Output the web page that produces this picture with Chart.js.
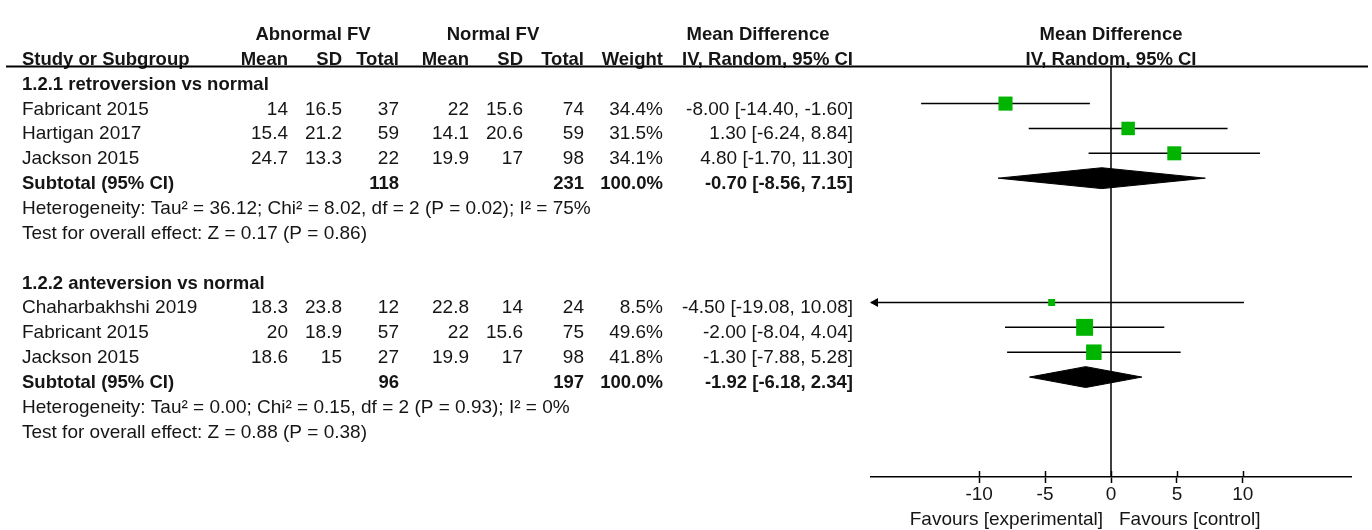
<!DOCTYPE html>
<html>
<head>
<meta charset="utf-8">
<script src="https://cdn.jsdelivr.net/npm/chart.js@4/dist/chart.umd.min.js"></script>
<style>
  html, body { margin: 0; padding: 0; background: #fff; }
  canvas { display: block; }
</style>
</head>
<body>
<canvas id="c" width="1372" height="530"></canvas>
<script>
// ---------------- DATA ----------------
const SUBGROUPS = ['1.2.1 retroversion vs normal', '1.2.2 anteversion vs normal'];
const STUDY_NAMES = ['Fabricant 2015', 'Hartigan 2017', 'Jackson 2015', 'Chaharbakhshi 2019', 'Fabricant 2015', 'Jackson 2015'];
const STUDY_GROUP = [0, 0, 0, 1, 1, 1];
const ABN_MEAN = [14, 15.4, 24.7, 18.3, 20, 18.6];
const ABN_SD = [16.5, 21.2, 13.3, 23.8, 18.9, 15];
const ABN_TOTAL = [37, 59, 22, 12, 57, 27];
const NOR_MEAN = [22, 14.1, 19.9, 22.8, 22, 19.9];
const NOR_SD = [15.6, 20.6, 17, 14, 15.6, 17];
const NOR_TOTAL = [74, 59, 98, 24, 75, 98];
const WEIGHT = [34.4, 31.5, 34.1, 8.5, 49.6, 41.8];
const MD = [-8.00, 1.30, 4.80, -4.50, -2.00, -1.30];
const MD_LO = [-14.40, -6.24, -1.70, -19.08, -8.04, -7.88];
const MD_HI = [-1.60, 8.84, 11.30, 10.08, 4.04, 5.28];
const SUB_ABN_TOTAL = [118, 96];
const SUB_NOR_TOTAL = [231, 197];
const SUB_WEIGHT = [100.0, 100.0];
const SUB_MD = [-0.70, -1.92];
const SUB_LO = [-8.56, -6.18];
const SUB_HI = [7.15, 2.34];
const HETEROGENEITY = [
  'Heterogeneity: Tau\u00b2 = 36.12; Chi\u00b2 = 8.02, df = 2 (P = 0.02); I\u00b2 = 75%',
  'Heterogeneity: Tau\u00b2 = 0.00; Chi\u00b2 = 0.15, df = 2 (P = 0.93); I\u00b2 = 0%'
];
const OVERALL_EFFECT = [
  'Test for overall effect: Z = 0.17 (P = 0.86)',
  'Test for overall effect: Z = 0.88 (P = 0.38)'
];
const TICK_VALUES = [-10, -5, 0, 5, 10];
const TICK_LABELS = ['-10', '-5', '0', '5', '10'];
const FAVOURS_LEFT = 'Favours [experimental]';
const FAVOURS_RIGHT = 'Favours [control]';

// ---------------- LAYOUT ----------------
const FONT = "'Liberation Sans', Arial, sans-serif";
const TXT = '#151515';
const GREEN = '#00b400';
const studyRow = [], subRow = [], hetRow = [], testRow = [], headRow = [];
(function () {
  let r = -1;
  SUBGROUPS.forEach((name, g) => {
    headRow[g] = r; r++;
    STUDY_GROUP.forEach((sg, i) => { if (sg === g) { studyRow[i] = r; r++; } });
    subRow[g] = r; r++;
    hetRow[g] = r; r++;
    testRow[g] = r; r++;
    r++;
  });
})();
const AXIS_ROW = 15;
const HEAD_LINE_ROW = -1.49;
const DIAMOND_HALF = 0.42;

// Datasets
const ciSets = MD.map((m, i) => ({
  type: 'line',
  data: [{ x: MD_LO[i], y: studyRow[i] }, { x: MD_HI[i], y: studyRow[i] }],
  borderColor: '#000', borderWidth: 1.5, pointRadius: 0, tension: 0, fill: false, order: 2
}));
const squareData = MD.map((m, i) => ({ x: m, y: studyRow[i], w: WEIGHT[i] }));
const diamondSets = SUB_MD.map((m, g) => ({
  type: 'line',
  data: [
    { x: SUB_LO[g], y: subRow[g] },
    { x: m, y: subRow[g] - DIAMOND_HALF },
    { x: SUB_HI[g], y: subRow[g] },
    { x: m, y: subRow[g] + DIAMOND_HALF },
    { x: SUB_LO[g], y: subRow[g] }
  ],
  borderColor: '#000', backgroundColor: '#000', borderWidth: 1,
  fill: 'shape', pointRadius: 0, tension: 0, order: 1
}));

const fmt2 = v => v.toFixed(2);
const ciText = (m, lo, hi) => fmt2(m) + ' [' + fmt2(lo) + ', ' + fmt2(hi) + ']';

// Column right edges (px) for the table
const COL = { name: 22, aMean: 288, aSD: 342, aTot: 399, nMean: 469, nSD: 523, nTot: 584, wt: 663, ci: 853 };

const tablePlugin = {
  id: 'forestTable',
  afterDraw(chart) {
    const ctx = chart.ctx;
    const ys = chart.scales.y, xs = chart.scales.x;
    const base = row => ys.getPixelForValue(row) + 11;
    const reg = '19px ' + FONT, bold = 'bold 18.5px ' + FONT;
    const t = (s, x, y, align, font) => {
      ctx.font = font; ctx.textAlign = align; ctx.fillStyle = TXT; ctx.textBaseline = 'alphabetic';
      ctx.fillText(s, x, y);
    };
    ctx.save();
    const h1 = base(-3), h2 = base(-2);
    t('Abnormal FV', 313, h1, 'center', bold);
    t('Normal FV', 493, h1, 'center', bold);
    t('Mean Difference', 758, h1, 'center', bold);
    t('Mean Difference', xs.getPixelForValue(0), h1, 'center', bold);
    t('Study or Subgroup', COL.name, h2, 'left', bold);
    t('Mean', COL.aMean, h2, 'right', bold);
    t('SD', COL.aSD, h2, 'right', bold);
    t('Total', COL.aTot, h2, 'right', bold);
    t('Mean', COL.nMean, h2, 'right', bold);
    t('SD', COL.nSD, h2, 'right', bold);
    t('Total', COL.nTot, h2, 'right', bold);
    t('Weight', COL.wt, h2, 'right', bold);
    t('IV, Random, 95% CI', COL.ci, h2, 'right', bold);
    t('IV, Random, 95% CI', xs.getPixelForValue(0), h2, 'center', bold);
    const ly = ys.getPixelForValue(HEAD_LINE_ROW);
    ctx.strokeStyle = '#000'; ctx.lineWidth = 2;
    ctx.beginPath(); ctx.moveTo(6, ly); ctx.lineTo(1368, ly); ctx.stroke();

    SUBGROUPS.forEach((name, g) => {
      t(name, COL.name, base(headRow[g]), 'left', bold);
      const sb = base(subRow[g]);
      t('Subtotal (95% CI)', COL.name, sb, 'left', bold);
      t(String(SUB_ABN_TOTAL[g]), COL.aTot, sb, 'right', bold);
      t(String(SUB_NOR_TOTAL[g]), COL.nTot, sb, 'right', bold);
      t(SUB_WEIGHT[g].toFixed(1) + '%', COL.wt, sb, 'right', bold);
      t(ciText(SUB_MD[g], SUB_LO[g], SUB_HI[g]), COL.ci, sb, 'right', bold);
      t(HETEROGENEITY[g], COL.name, base(hetRow[g]), 'left', reg);
      t(OVERALL_EFFECT[g], COL.name, base(testRow[g]), 'left', reg);
    });
    STUDY_NAMES.forEach((name, i) => {
      const b = base(studyRow[i]);
      t(name, COL.name, b, 'left', reg);
      t(String(ABN_MEAN[i]), COL.aMean, b, 'right', reg);
      t(String(ABN_SD[i]), COL.aSD, b, 'right', reg);
      t(String(ABN_TOTAL[i]), COL.aTot, b, 'right', reg);
      t(String(NOR_MEAN[i]), COL.nMean, b, 'right', reg);
      t(String(NOR_SD[i]), COL.nSD, b, 'right', reg);
      t(String(NOR_TOTAL[i]), COL.nTot, b, 'right', reg);
      t(WEIGHT[i].toFixed(1) + '%', COL.wt, b, 'right', reg);
      t(ciText(MD[i], MD_LO[i], MD_HI[i]), COL.ci, b, 'right', reg);
    });

    const ay = chart.chartArea.bottom;
    ctx.strokeStyle = '#000'; ctx.lineWidth = 1.5;
    TICK_VALUES.forEach(v => {
      const px = Math.round(xs.getPixelForValue(v)) + 0.5;
      ctx.beginPath(); ctx.moveTo(px, ay - 6); ctx.lineTo(px, ay); ctx.stroke();
    });
    const x0 = xs.getPixelForValue(0);
    t(FAVOURS_LEFT, x0 - 8, 525, 'right', reg);
    t(FAVOURS_RIGHT, x0 + 8, 525, 'left', reg);

    ctx.fillStyle = '#000';
    MD.forEach((m, i) => {
      const py = ys.getPixelForValue(studyRow[i]);
      if (MD_LO[i] < xs.min) {
        const px = chart.chartArea.left;
        ctx.beginPath(); ctx.moveTo(px - 1, py); ctx.lineTo(px + 7, py - 4.5); ctx.lineTo(px + 7, py + 4.5); ctx.closePath(); ctx.fill();
      }
      if (MD_HI[i] > xs.max) {
        const px = chart.chartArea.right;
        ctx.beginPath(); ctx.moveTo(px + 1, py); ctx.lineTo(px - 7, py - 4.5); ctx.lineTo(px - 7, py + 4.5); ctx.closePath(); ctx.fill();
      }
    });
    ctx.restore();
  }
};

new Chart(document.getElementById('c'), {
  type: 'scatter',
  data: {
    datasets: [
      {
        label: 'studies', data: squareData, pointStyle: 'rect',
        pointRadius: ctx => (2.4 * Math.sqrt(ctx.raw ? ctx.raw.w : 0)) / Math.SQRT2,
        pointBackgroundColor: GREEN, pointBorderWidth: 0, pointBorderColor: GREEN,
        showLine: false, order: 0
      },
      ...diamondSets,
      ...ciSets,
      {
        label: 'zero', type: 'line', data: [{ x: 0, y: HEAD_LINE_ROW }, { x: 0, y: AXIS_ROW }],
        borderColor: '#000', borderWidth: 1.5, pointRadius: 0, fill: false, order: 3
      }
    ]
  },
  options: {
    responsive: false,
    animation: false,
    layout: { padding: { left: 871, right: 21, top: 0, bottom: 13 } },
    plugins: { legend: { display: false }, tooltip: { enabled: false } },
    scales: {
      x: {
        type: 'linear', min: -18.2, max: 18.2, position: 'bottom',
        border: { display: true, color: '#000', width: 1.5 },
        grid: { display: true, drawOnChartArea: false, drawTicks: true, tickLength: 6, tickColor: '#000', tickWidth: 1.5 },
        ticks: {
          color: TXT, font: { family: FONT, size: 19 }, padding: 0, autoSkip: false, maxRotation: 0,
          callback: (v) => { const k = TICK_VALUES.indexOf(v); return k >= 0 ? TICK_LABELS[k] : ''; }
        },
        afterBuildTicks: s => { s.ticks = TICK_VALUES.map(v => ({ value: v })); },
        afterFit: s => { s.height = 40; }
      },
      y: {
        type: 'linear', reverse: true, display: false,
        min: -94 / 25.5, max: -94 / 25.5 + 477 / 25.5
      }
    }
  },
  plugins: [tablePlugin]
});
</script>
</body>
</html>
